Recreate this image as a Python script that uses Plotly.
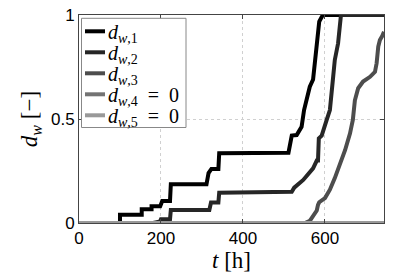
import plotly.graph_objects as go

# ---- data ----
t1 = [0, 100, 100, 153, 153, 177, 177, 198, 203, 222, 224, 311, 316, 323, 340, 342,
      511, 519, 531, 535, 543, 549, 556, 563, 571, 576, 586, 592, 595, 744]
d1 = [0, 0, 0.04, 0.04, 0.066, 0.066, 0.08, 0.08, 0.106, 0.106, 0.186, 0.186, 0.24, 0.26, 0.26, 0.335,
      0.338, 0.42, 0.423, 0.44, 0.463, 0.543, 0.6, 0.655, 0.69, 0.784, 0.968, 0.99, 1.0, 1.0]

t2 = [0, 181, 198, 200, 222, 224, 318, 322, 340, 342, 519, 525, 547, 560, 571, 580, 583,
      585, 592, 604, 612, 620, 624, 632, 637, 639, 744]
d2 = [0, 0, 0.008, 0.018, 0.018, 0.0625, 0.0625, 0.098, 0.098, 0.146, 0.15, 0.17, 0.207, 0.235, 0.263, 0.30, 0.30,
      0.407, 0.42, 0.495, 0.543, 0.703, 0.784, 0.864, 0.96, 1.0, 1.0]

t3 = [0, 551, 563, 571, 580, 583, 586, 600, 612, 624, 637, 649, 661, 668, 673, 681, 693,
      710, 722, 726, 730, 734, 740, 744]
d3 = [0, 0, 0.01, 0.034, 0.06, 0.087, 0.1, 0.12, 0.16, 0.216, 0.28, 0.35, 0.43, 0.495, 0.59, 0.648, 0.68,
      0.703, 0.727, 0.768, 0.848, 0.88, 0.9, 0.92]

t4 = [0, 744]
d4 = [0, 0]
t5 = [0, 744]
d5 = [0, 0]

names = ["<i>d</i><sub><i>w</i>,1</sub>",
         "<i>d</i><sub><i>w</i>,2</sub>",
         "<i>d</i><sub><i>w</i>,3</sub>",
         "<i>d</i><sub><i>w</i>,4</sub>\u00a0 =\u00a0 0",
         "<i>d</i><sub><i>w</i>,5</sub>\u00a0 =\u00a0 0"]
colors = ["#000000", "#262626", "#4d4d4d", "#737373", "#999999"]

x_ticks = [0, 200, 400, 600]
y_ticks = [0, 0.5, 1]
y_ticktext = ["0", "0.5", "1"]

W, H = 398, 279
ML, MR, MT, MB = 79, 14, 15, 56
PW, PH = W - ML - MR, H - MT - MB


def px_x(p):
    return (p - ML) / PW


def px_y(p):
    return (H - MB - p) / PH


fig = go.Figure()
for t, d, n, c in zip([t1, t2, t3, t4, t5], [d1, d2, d3, d4, d5], names, colors):
    fig.add_trace(go.Scatter(x=t, y=d, mode="lines", name=n, showlegend=False,
                             line=dict(color=c, width=4)))

# hand-built legend (box, line samples, labels) in paper coordinates
shapes = [dict(type="rect", xref="paper", yref="paper",
               x0=px_x(81.5), x1=px_x(186), y0=px_y(127.5), y1=px_y(18.3),
               line=dict(color="#888", width=1), fillcolor="white", layer="above")]
annotations = []
for i, (n, c) in enumerate(zip(names, colors)):
    yy = 31.3 + 21 * i
    shapes.append(dict(type="line", xref="paper", yref="paper",
                       x0=px_x(85), x1=px_x(105), y0=px_y(yy), y1=px_y(yy),
                       line=dict(color=c, width=4), layer="above"))
    annotations.append(dict(text=n, xref="paper", yref="paper", x=px_x(106), y=px_y(yy + 2),
                            xanchor="left", yanchor="middle", showarrow=False,
                            font=dict(family="Liberation Serif", size=20, color="#000")))

axis_common = dict(showline=True, linecolor="#444", linewidth=1, mirror="ticks",
                   ticks="inside", ticklen=4, tickcolor="#444",
                   showgrid=True, gridcolor="#d0d0d0", griddash="dot", gridwidth=1,
                   zeroline=False, automargin=False, ticklabeloverflow="allow",
                   tickfont=dict(family="Liberation Sans, Arial", size=17, color="#000"))

fig.update_xaxes(range=[0, 744], tickvals=x_ticks,
                 title=dict(text="<i>t</i> [h]", font=dict(family="Liberation Serif", size=23, color="#000"),
                            standoff=2),
                 **axis_common)
fig.update_yaxes(range=[0, 1], tickvals=y_ticks, ticktext=y_ticktext,
                 title=dict(text="<i>d</i><sub><i>w</i></sub> [−]",
                            font=dict(family="Liberation Serif", size=23, color="#000"),
                            standoff=6),
                 **axis_common)

fig.update_layout(
    width=W, height=H,
    margin=dict(l=ML, r=MR, t=MT, b=MB, autoexpand=False),
    plot_bgcolor="white", paper_bgcolor="white",
    showlegend=False,
    shapes=shapes, annotations=annotations,
)

fig.write_html("out.html", config={"displayModeBar": False},
               post_script="document.body.style.margin='0';")
